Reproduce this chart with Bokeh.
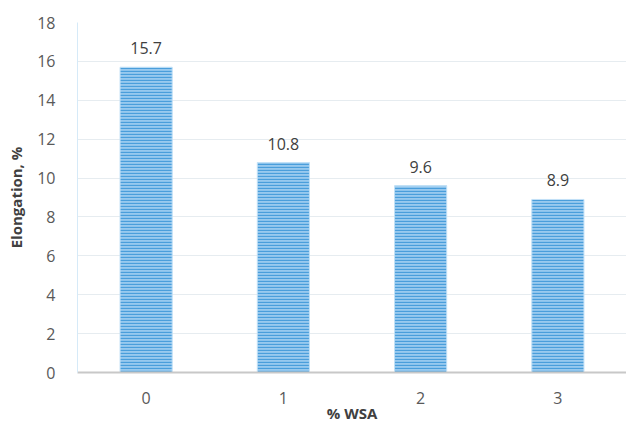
from bokeh.plotting import figure
from bokeh.models import FactorRange, Range1d, ColumnDataSource, SingleIntervalTicker
from bokeh.core.properties import value
from bokeh.embed import file_html
from bokeh.resources import INLINE

categories = ["0", "1", "2", "3"]
elongation = [15.7, 10.8, 9.6, 8.9]
labels = ["15.7", "10.8", "9.6", "8.9"]

FONT = "Open Sans"

src = ColumnDataSource(data=dict(x=categories, top=elongation, label=labels))

p = figure(width=626, height=425, x_range=FactorRange(*categories, range_padding=0),
           y_range=Range1d(0, 18), output_backend="svg", toolbar_location=None,
           min_border_left=77, min_border_right=0, min_border_top=22, min_border_bottom=52)
p.outline_line_color = None
p.background_fill_color = "white"
p.border_fill_color = "white"

p.vbar(x="x", top="top", width=0.38, source=src,
       fill_color="#98c9ee", line_color="#c2e1f7", line_width=1,
       hatch_pattern="horizontal_line", hatch_color="#4a9edb",
       hatch_scale=3, hatch_weight=1.3)

p.text(x="x", y="top", text="label", source=src, text_align="center",
       text_baseline="bottom", y_offset=-13, text_font=value(FONT),
       text_font_size="16px", text_color="#404040")

p.yaxis.ticker = SingleIntervalTicker(interval=2)
p.ygrid.ticker = SingleIntervalTicker(interval=2)
p.xgrid.grid_line_color = None
p.ygrid.grid_line_color = "#e6ecf0"
p.ygrid.grid_line_width = 1

for ax in (p.xaxis, p.yaxis):
    ax.major_tick_line_color = None
    ax.minor_tick_line_color = None
    ax.major_label_text_font = FONT
    ax.major_label_text_font_size = "16px"
    ax.major_label_text_color = "#595959"
    ax.axis_label_text_font = FONT
    ax.axis_label_text_font_size = "15px"
    ax.axis_label_text_font_style = "bold"
    ax.axis_label_text_color = "#404040"

p.xaxis.axis_line_color = "#c8c8c8"
p.xaxis.axis_line_width = 2
p.yaxis.axis_line_color = "#d6eaf8"
p.yaxis.axis_line_width = 1
p.xaxis.axis_label = "% WSA"
p.yaxis.axis_label = "Elongation, %"
p.xaxis.major_label_standoff = 13
p.xaxis.axis_label_standoff = -4
p.yaxis.major_label_standoff = 16
p.yaxis.axis_label_standoff = 8

open("out.html", "w").write(file_html(p, INLINE))
